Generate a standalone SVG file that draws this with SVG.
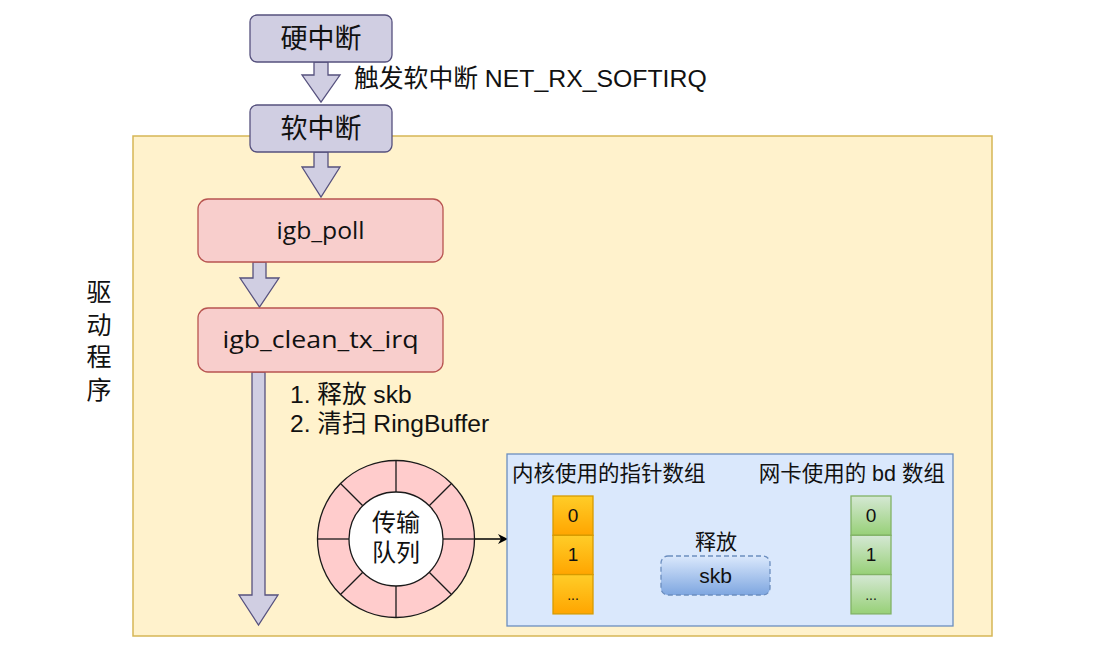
<svg xmlns="http://www.w3.org/2000/svg" width="1107" height="658" viewBox="0 0 1107 658">
<style>
.t{font-family:"Liberation Sans","Noto Sans CJK SC",sans-serif;fill:#111}
.r{font-family:"Open Sans","Noto Sans CJK SC",sans-serif;fill:#111}
.lav{fill:#d0cee2;stroke:#56517e;stroke-width:1.3}
.red{fill:#f8cecc;stroke:#b85450;stroke-width:1.3}
.seg{stroke:#1a1a1a;stroke-width:1.3}
</style>
<defs>
<linearGradient id="gOr" x1="0" y1="0" x2="0" y2="1"><stop offset="0" stop-color="#ffcd28"/><stop offset="1" stop-color="#ffa500"/></linearGradient>
<linearGradient id="gGr" x1="0" y1="0" x2="0" y2="1"><stop offset="0" stop-color="#d5e8d4"/><stop offset="1" stop-color="#97d077"/></linearGradient>
<linearGradient id="gBl" x1="0" y1="0" x2="0" y2="1"><stop offset="0" stop-color="#dae8fc"/><stop offset="1" stop-color="#7ea6e0"/></linearGradient>
<marker id="arr" markerWidth="10" markerHeight="10" refX="9" refY="5" orient="auto" markerUnits="userSpaceOnUse"><path d="M0,0 L10,5 L0,10 L3,5 Z" fill="#000"/></marker>
</defs>
<rect width="1107" height="658" fill="#fff"/>

<g id="driver-container">
<rect x="133" y="136" width="859" height="500" fill="#fff2cc" stroke="#d6b656" stroke-width="1.5"/>
</g>
<g id="driver-label" class="t" font-size="25" text-anchor="middle">
<text x="99" y="301">驱</text>
<text x="99" y="334">动</text>
<text x="99" y="366">程</text>
<text x="99" y="399">序</text>
</g>

<g id="connectors">
<polygon class="lav" points="314,62 328,62 328,75 340,75 321,102 302,75 314,75"/>
<polygon class="lav" points="314,152 328,152 328,167 340,167 321,197 302,167 314,167"/>
<polygon class="lav" points="253,262 266,262 266,278 279,278 259.5,307 240,278 253,278"/>
<polygon class="lav" points="252,372 265,372 265,595 278,595 258.5,625 239,595 252,595"/>
<line x1="474.5" y1="539" x2="507" y2="539" stroke="#000" stroke-width="1.3" marker-end="url(#arr)"/>
</g>

<g id="hardirq">
<rect class="lav" x="250" y="15" width="142" height="47" rx="7"/>
<text class="t" x="321" y="48" font-size="27" text-anchor="middle">硬中断</text>
</g>
<text id="trigger-label" class="t" x="354" y="87" font-size="24.8">触发软中断 NET_RX_SOFTIRQ</text>

<g id="softirq">
<rect class="lav" x="250" y="105" width="142" height="47" rx="7"/>
<text class="t" x="321" y="138" font-size="27" text-anchor="middle">软中断</text>
</g>

<g id="igb_poll">
<rect class="red" x="198" y="199" width="245" height="63" rx="10"/>
<text class="r" x="320.5" y="239" font-size="24" text-anchor="middle" textLength="88" lengthAdjust="spacingAndGlyphs">igb_poll</text>
</g>

<g id="igb_clean_tx_irq">
<rect class="red" x="198" y="308" width="245" height="64" rx="10"/>
<text class="r" x="320.5" y="348" font-size="24" text-anchor="middle" textLength="196" lengthAdjust="spacingAndGlyphs">igb_clean_tx_irq</text>
</g>

<g id="steps" class="t" font-size="24.6">
<text x="290" y="403">1. 释放 skb</text>
<text x="290" y="432">2. 清扫 RingBuffer</text>
</g>

<g id="tx-queue">
<circle cx="396" cy="539" r="78.5" fill="#ffcccc" stroke="#1a1a1a" stroke-width="1.3"/>
<line class="seg" x1="443" y1="539" x2="474.5" y2="539"/>
<line class="seg" x1="349" y1="539" x2="317.5" y2="539"/>
<line class="seg" x1="396" y1="492" x2="396" y2="460.5"/>
<line class="seg" x1="396" y1="586" x2="396" y2="617.5"/>
<line class="seg" x1="429.2" y1="505.8" x2="451.5" y2="483.5"/>
<line class="seg" x1="362.8" y1="505.8" x2="340.5" y2="483.5"/>
<line class="seg" x1="429.2" y1="572.2" x2="451.5" y2="594.5"/>
<line class="seg" x1="362.8" y1="572.2" x2="340.5" y2="594.5"/>
<circle cx="396" cy="539" r="47" fill="#fff" stroke="#1a1a1a" stroke-width="1.3"/>
<text class="t" x="396" y="531" font-size="24" text-anchor="middle">传输</text>
<text class="t" x="396" y="561" font-size="24" text-anchor="middle">队列</text>
</g>

<g id="ring-buffer">
<rect x="507" y="454" width="446" height="172" fill="#dae8fc" stroke="#6c8ebf" stroke-width="1.3"/>
<text class="t" x="512" y="481" font-size="21.5">内核使用的指针数组</text>
<text class="t" x="945" y="481" font-size="21.5" text-anchor="end">网卡使用的 bd 数组</text>
</g>

<g id="kernel-array" class="t" font-size="19" text-anchor="middle">
<rect x="553" y="496" width="40" height="39.3" fill="url(#gOr)" stroke="#d79b00" stroke-width="1.3"/>
<rect x="553" y="535.3" width="40" height="39.3" fill="url(#gOr)" stroke="#d79b00" stroke-width="1.3"/>
<rect x="553" y="574.6" width="40" height="39.3" fill="url(#gOr)" stroke="#d79b00" stroke-width="1.3"/>
<text x="573" y="522">0</text>
<text x="573" y="561">1</text>
<text x="573" y="600" font-size="14">...</text>
</g>

<g id="nic-array" class="t" font-size="19" text-anchor="middle">
<rect x="851" y="496" width="40" height="39.3" fill="url(#gGr)" stroke="#82b366" stroke-width="1.3"/>
<rect x="851" y="535.3" width="40" height="39.3" fill="url(#gGr)" stroke="#82b366" stroke-width="1.3"/>
<rect x="851" y="574.6" width="40" height="39.3" fill="url(#gGr)" stroke="#82b366" stroke-width="1.3"/>
<text x="871" y="522">0</text>
<text x="871" y="561">1</text>
<text x="871" y="600" font-size="14">...</text>
</g>

<g id="skb">
<text class="t" x="716" y="549" font-size="21" text-anchor="middle">释放</text>
<rect x="661" y="556" width="109" height="39" rx="7" fill="url(#gBl)" stroke="#6c8ebf" stroke-width="1.3" stroke-dasharray="5,3"/>
<text class="t" x="715.5" y="583" font-size="21" text-anchor="middle">skb</text>
</g>
</svg>
